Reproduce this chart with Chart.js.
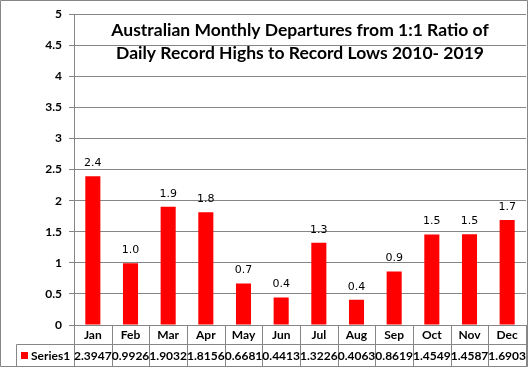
<!DOCTYPE html>
<html>
<head>
<meta charset="utf-8">
<script src="https://cdn.jsdelivr.net/npm/chart.js@4"></script>
<style>
  html, body { margin: 0; padding: 0; background: #fff; }
  #wrap { width: 528px; height: 367px; position: relative; }
</style>
</head>
<body>
<div id="wrap"><canvas id="chart" width="528" height="367"></canvas></div>
<script>
const months = ["Jan", "Feb", "Mar", "Apr", "May", "Jun", "Jul", "Aug", "Sep", "Oct", "Nov", "Dec"];
const series1 = [2.3947, 0.9926, 1.9032, 1.8156, 0.6681, 0.4413, 1.3226, 0.4063, 0.8619, 1.4549, 1.4587, 1.6903];
const seriesName = "Series1";
const titleLines = ["Australian Monthly Departures from 1:1 Ratio of", "Daily Record Highs to Record Lows 2010- 2019"];

const gridGray = "#868686";
const barRed = "#ff0000";

// bar value labels + title drawn over the plot area (Excel style)
const overlayPlugin = {
  id: "overlay",
  afterDatasetsDraw(chart) {
    const ctx = chart.ctx;
    const meta = chart.getDatasetMeta(0);
    ctx.save();
    ctx.fillStyle = "#000";
    ctx.font = "11px 'DejaVu Sans'";
    ctx.textAlign = "center";
    ctx.textBaseline = "middle";
    meta.data.forEach((bar, i) => {
      ctx.fillText(series1[i].toFixed(1), bar.x, bar.y - 13);
    });

    const area = chart.chartArea;
    const cx = (area.left + area.right) / 2;
    ctx.font = "bold 17.5px Lato";
    ctx.fillText(titleLines[0], cx, 30);
    ctx.fillText(titleLines[1], cx, 53);
    ctx.restore();
  },
  afterDraw(chart) {
    // data table under the plot
    const ctx = chart.ctx;
    const area = chart.chartArea;
    const xs = chart.scales.x;
    const W = chart.width, H = chart.height;
    const top = area.bottom;
    const mid = 344.5;
    const tableLeft = 16.5;

    const bounds = [area.left];
    for (let i = 1; i < months.length; i++) {
      bounds.push((xs.getPixelForValue(i - 1) + xs.getPixelForValue(i)) / 2);
    }
    bounds.push(area.right);

    ctx.save();
    ctx.strokeStyle = gridGray;
    ctx.lineWidth = 1;
    ctx.beginPath();
    bounds.forEach(b => {
      const x = Math.round(b) + 0.5;
      ctx.moveTo(x, top);
      ctx.lineTo(x, H);
    });
    ctx.moveTo(tableLeft, mid);
    ctx.lineTo(area.right, mid);
    ctx.moveTo(tableLeft, mid);
    ctx.lineTo(tableLeft, H);
    // outer chart border
    ctx.rect(0.5, 0.5, W - 1, H - 1);
    ctx.stroke();

    ctx.fillStyle = "#000";
    ctx.textAlign = "center";
    ctx.textBaseline = "middle";
    ctx.font = "bold 12px Lato";
    months.forEach((m, i) => {
      ctx.fillText(m, xs.getPixelForValue(i), 335);
    });
    series1.forEach((v, i) => {
      ctx.fillText(String(v), xs.getPixelForValue(i), 356);
    });

    // legend key
    ctx.fillStyle = barRed;
    ctx.fillRect(21, 352, 7, 7);
    ctx.fillStyle = "#000";
    ctx.textAlign = "left";
    ctx.fillText(seriesName, 31, 356);
    ctx.restore();
  }
};

new Chart(document.getElementById("chart"), {
  type: "bar",
  data: {
    labels: months,
    datasets: [
      {
        label: seriesName,
        data: series1,
        backgroundColor: barRed,
        borderWidth: 0,
        barPercentage: 0.4,
        categoryPercentage: 1.0,
      },
    ],
  },
  options: {
    responsive: false,
    animation: false,
    events: [],
    layout: {
      padding: { top: 8, right: 2, bottom: 42, left: 0 },
    },
    plugins: {
      legend: { display: false },
      title: { display: false },
      tooltip: { enabled: false },
    },
    scales: {
      x: {
        display: false,
      },
      y: {
        min: 0,
        max: 5,
        ticks: {
          stepSize: 0.5,
          padding: 7,
          color: "#000",
          font: { family: "Lato", size: 12, weight: "bold" },
          callback: (value) => String(value),
        },
        grid: {
          color: gridGray,
          tickLength: 5,
        },
        border: { color: gridGray },
        afterFit(scale) {
          scale.width = 74;
        },
      },
    },
  },
  plugins: [overlayPlugin],
});
</script>
</body>
</html>
